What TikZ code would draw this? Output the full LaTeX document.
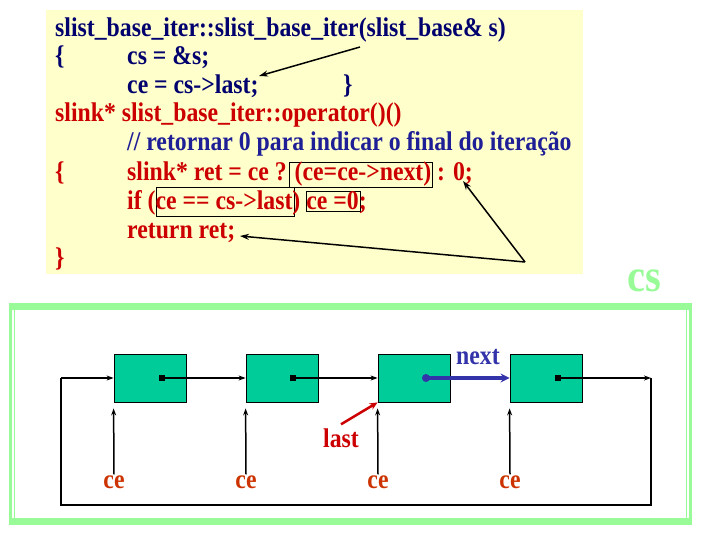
\documentclass[tikz,border=0pt]{standalone}
\usepackage{fontspec}
\setmainfont{Liberation Serif}
\newfontfamily\codefont[FakeStretch=0.88]{Liberation Serif}
\usetikzlibrary{arrows.meta}
\definecolor{codeyellow}{RGB}{255,255,204}
\definecolor{navy}{RGB}{0,0,110}
\definecolor{codered}{RGB}{204,0,0}
\definecolor{codeblue}{RGB}{30,30,150}
\definecolor{palegrn}{RGB}{152,251,152}
\definecolor{nodegreen}{RGB}{0,204,153}
\definecolor{nextblue}{RGB}{51,51,170}
\definecolor{ceorange}{RGB}{204,51,0}
\tikzset{
  codetext/.style={anchor=base west, inner sep=0pt, font=\codefont\fontsize{27}{30}\selectfont\bfseries},
  lbl/.style={inner sep=0pt, font=\codefont\fontsize{27}{30}\selectfont\bfseries},
  callout/.style={draw=black, line width=1.5pt, -{Stealth[length=9pt,width=6pt]}},
  hlbox/.style={draw=black, line width=0.9pt},
  cell/.style={draw=black, line width=0.8pt, fill=nodegreen, minimum width=72pt, minimum height=48pt, inner sep=0pt},
  link/.style={draw=black, line width=1.5pt, -{Stealth[length=7pt,width=5pt]}},
  dotsq/.style={fill=black, minimum size=5.5pt, inner sep=0pt},
}
\begin{document}
\begin{tikzpicture}[x=1pt,y=-1pt]
\useasboundingbox (0,0) rectangle (720,540);
% code panel
\fill[codeyellow] (46,10) rectangle (583,274);
% highlight boxes
\draw[hlbox] (289,162.5) rectangle (432.5,187);
\draw[hlbox] (156,187) rectangle (294.5,216.5);
\draw[hlbox] (306,191.5) rectangle (360,211);
% code text
\node[codetext, text=navy] (l1) at (55,36.5) {slist\_base\_iter::slist\_base\_iter(slist\_base\& s)};
\node[codetext, text=navy] (l2a) at (55,65) {\{};
\node[codetext, text=navy] (l2b) at (127,65) {cs = \&s;};
\node[codetext, text=navy] (l3a) at (127,93.5) {ce = cs->last;};
\node[codetext, text=navy] (l3b) at (343,93.5) {\}};
\node[codetext, text=codered] (l4) at (55,122) {slink* slist\_base\_iter::operator()()};
\node[codetext, text=codeblue] (l5) at (127,150.5) {// retornar 0 para indicar o final do iteração};
\node[codetext, text=codered] (l6a) at (55,181) {\{};
\node[codetext, text=codered] (l6b) at (127,181) {slink* ret = ce ? (ce=ce->next) : 0;};
\node[codetext, text=codered] (l7) at (127,209.5) {if (ce == cs->last) ce =0;};
\node[codetext, text=codered] (l8) at (127,238) {return ret;};
\node[codetext, text=codered] (l9) at (55,266.5) {\}};
% callout arrows
\coordinate (a1s) at (360,47);
\coordinate (a1e) at (259,76);
\coordinate (a2s) at (525,262);
\coordinate (a2e) at (463,181);
\coordinate (a3e) at (240,236);
\draw[callout] (a1s) -- (a1e);
\draw[callout] (a2s) -- (a2e);
\draw[callout] (a2s) -- (a3e);
% cs label
\node[inner sep=0pt, text=palegrn, font=\codefont\fontsize{46}{50}\selectfont\bfseries] (cs) at (644,281) {cs};
% frame
\fill[palegrn] (9,303) rectangle (692,310);
\fill[palegrn] (9,518) rectangle (692,525);
\draw[palegrn, line width=2.5pt] (10.5,304) rectangle (690.5,524);
\draw[palegrn, line width=1.2pt] (14.5,309) rectangle (686.5,519);
% list cells
\node[cell] (b1) at (150,378) {};
\node[cell] (b2) at (282,378) {};
\node[cell] (b3) at (414,378) {};
\node[cell] (b4) at (546,378) {};
% loop corners
\coordinate (ls) at (61,378);
\coordinate (le) at (651,378);
\coordinate (lbr) at (651,505);
\coordinate (lbl) at (61,505);
\draw[black, line width=1.2pt] (le) -- (lbr) -- (lbl) -- (ls);
% links
\node[dotsq] (d1) at (162,378) {};
\node[dotsq] (d2) at (293,378) {};
\node[dotsq] (d4) at (558,378) {};
\node[circle, fill=nextblue, minimum size=8pt, inner sep=0pt] (d3) at (426,378) {};
\draw[link] (ls) -- (b1.west);
\draw[link] (d1.center) -- (b2.west);
\draw[link] (d2.center) -- (b3.west);
\draw[draw=nextblue, line width=3.5pt, -{Stealth[length=9pt,width=9pt]}] (d3.center) -- (b4.west);
\draw[link] (d4.center) -- (le);
% labels
\node[lbl, text=nextblue] (next) at (478,357) {next};
\node[lbl, text=codered] (last) at (341,438) {last};
\draw[draw=codered, line width=2.5pt, -{Stealth[length=8pt,width=7pt]}] ([yshift=4pt]last.north) -- (b3.south west);
\node[lbl, text=ceorange] (ce1) at (114,482) {ce};
\node[lbl, text=ceorange] (ce2) at (246,482) {ce};
\node[lbl, text=ceorange] (ce3) at (378,482) {ce};
\node[lbl, text=ceorange] (ce4) at (510,482) {ce};
\foreach \i in {1,2,3,4}{
  \draw[link] ([yshift=1pt]ce\i.north) -- ([yshift=-6pt]b\i.south west);
}
\end{tikzpicture}
\end{document}
